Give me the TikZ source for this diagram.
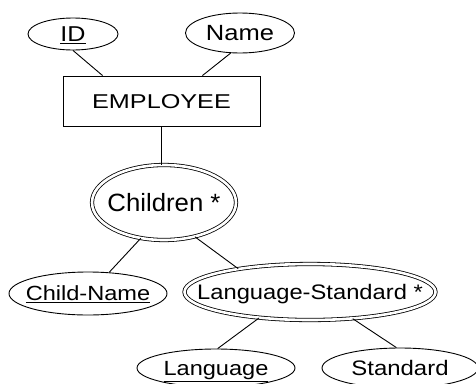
\documentclass[tikz,border=0pt]{standalone}
\usepackage{fontspec}
\usepackage{graphicx}
\setmainfont{Liberation Sans}
\usetikzlibrary{shapes.geometric}

% label set at a given size and horizontal stretch; zero width so the
% shape size comes from minimum width/height only
\newcommand\erlabel[3]{\makebox[0pt]{\fontsize{#1}{#1}\selectfont\scalebox{#2}[1]{#3}}}

\tikzset{
  attr/.style={draw, ellipse, inner sep=0pt, line width=0.9pt, text height=15pt, text depth=0pt},
  multi/.style={attr, double, double distance=2.6pt, line width=0.8pt},
  entity/.style={draw, rectangle, inner sep=0pt, line width=0.9pt, text height=15pt, text depth=0pt},
  link/.style={line width=0.9pt}
}

\begin{document}
\begin{tikzpicture}[x=1pt, y=-1pt]
  \useasboundingbox (0,0) rectangle (476,383);
  \clip (0,0) rectangle (476,383);

  % entity and its simple attributes
  \node[attr, minimum width=90pt, minimum height=32pt] (id) at (73,34)
    {\erlabel{21.5pt}{1.17}{\underline{ID}}};
  \node[attr, minimum width=109pt, minimum height=40pt] (name) at (240,33)
    {\erlabel{22pt}{1.16}{Name}};
  \node[entity, minimum width=197pt, minimum height=50pt, text height=14.5pt] (emp) at (161.5,101)
    {\erlabel{20pt}{1.26}{EMPLOYEE}};

  % multivalued composite attribute and its parts
  \node[multi, minimum width=144pt, minimum height=75pt, text height=18pt] (children) at (164,202.5)
    {\erlabel{25pt}{1.03}{Children *}};
  \node[attr, minimum width=158pt, minimum height=43pt, text height=14.5pt] (childname) at (88,293.5)
    {\erlabel{20.5pt}{1.15}{\underline{Child-Name}}};
  \node[multi, minimum width=251pt, minimum height=56pt] (langstd) at (310,292)
    {\erlabel{21pt}{1.13}{Language-Standard *}};
  \node[attr, minimum width=158pt, minimum height=38pt, text height=14.5pt] (language) at (216,368)
    {\erlabel{20.5pt}{1.15}{\underline{Language}}};
  \node[attr, minimum width=156pt, minimum height=40pt] (standard) at (400,368)
    {\erlabel{21pt}{1.14}{Standard}};

  % connectors
  \draw[link] (id.south) -- ([xshift=40pt]emp.north west);
  \draw[link] (name.245) -- ([xshift=-58pt]emp.north east);
  \draw[link] (emp.south) -- (emp.south |- children.north);
  \draw[link] (children.237) -- (childname.45);
  \draw[link] (children.312) -- (langstd.162);
  \draw[link] (langstd.207) -- (language.85);
  \draw[link] (langstd.328) -- (standard.100);
\end{tikzpicture}
\end{document}
